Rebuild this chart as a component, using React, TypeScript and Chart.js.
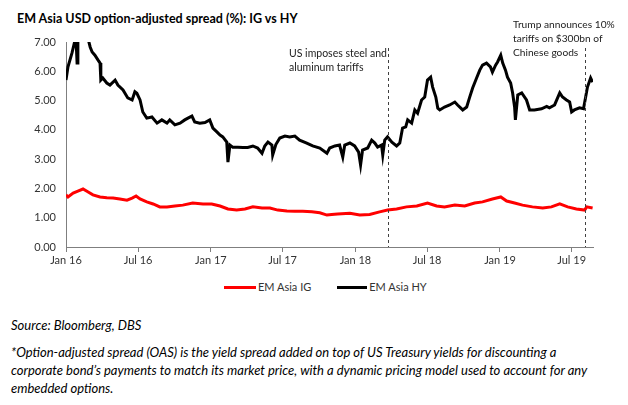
import React, { useEffect, useRef } from "react";
import { Chart, registerables } from "chart.js";

Chart.register(...registerables);

const title = "EM Asia USD option-adjusted  spread (%): IG vs HY";
const seriesNames = ["EM Asia IG", "EM Asia HY"];

const hyDates = [
  "2016-01-01", "2016-01-06", "2016-01-16", "2016-01-21", "2016-01-26", "2016-01-29", "2016-01-31",
  "2016-02-05", "2016-02-15", "2016-02-26", "2016-03-02", "2016-03-07", "2016-03-14", "2016-03-22",
  "2016-03-27", "2016-03-29", "2016-04-03", "2016-04-13", "2016-04-21", "2016-05-04", "2016-05-11",
  "2016-05-24", "2016-06-05", "2016-06-16", "2016-06-23", "2016-06-28", "2016-07-06", "2016-07-13",
  "2016-07-23", "2016-08-05", "2016-08-18", "2016-08-30", "2016-09-12", "2016-09-19", "2016-10-02",
  "2016-10-15", "2016-10-27", "2016-11-04", "2016-11-14", "2016-11-21", "2016-12-04", "2016-12-17",
  "2016-12-29", "2017-01-06", "2017-01-16", "2017-01-24", "2017-01-31", "2017-02-10", "2017-02-13",
  "2017-02-18", "2017-02-25", "2017-03-10", "2017-03-23", "2017-04-04", "2017-04-17", "2017-04-29",
  "2017-05-10", "2017-05-17", "2017-05-25", "2017-06-04", "2017-06-06", "2017-06-14", "2017-06-24",
  "2017-07-07", "2017-07-19", "2017-08-01", "2017-08-13", "2017-08-31", "2017-09-15", "2017-10-03",
  "2017-10-21", "2017-10-28", "2017-11-10", "2017-11-22", "2017-11-30", "2017-12-05", "2017-12-18",
  "2017-12-30", "2018-01-09", "2018-01-14", "2018-01-19", "2018-02-01", "2018-02-11", "2018-02-19",
  "2018-02-26", "2018-03-08", "2018-03-11", "2018-03-16", "2018-03-23", "2018-04-03", "2018-04-15",
  "2018-04-23", "2018-04-30", "2018-05-08", "2018-05-13", "2018-05-23", "2018-05-31", "2018-06-07",
  "2018-06-17", "2018-06-25", "2018-07-02", "2018-07-10", "2018-07-15", "2018-07-23", "2018-07-28",
  "2018-08-02", "2018-08-14", "2018-08-27", "2018-09-09", "2018-09-16", "2018-09-29", "2018-10-09",
  "2018-10-16", "2018-10-24", "2018-11-03", "2018-11-11", "2018-11-18", "2018-11-28", "2018-12-08",
  "2018-12-13", "2018-12-21", "2018-12-26", "2019-01-03", "2019-01-08", "2019-01-15", "2019-01-20",
  "2019-01-28", "2019-02-02", "2019-02-07", "2019-02-09", "2019-02-15", "2019-02-25", "2019-03-09",
  "2019-03-17", "2019-03-29", "2019-04-16", "2019-04-29", "2019-05-06", "2019-05-19", "2019-06-01",
  "2019-06-08", "2019-06-18", "2019-06-26", "2019-07-01", "2019-07-08", "2019-07-21", "2019-07-31",
  "2019-08-05", "2019-08-10", "2019-08-18", "2019-08-23",
];
const hyValues = [
  5.7, 6.15, 6.62, 6.9, 7.2, 6.28, 7.1,
  7.3, 7.2, 7.1, 6.83, 6.66, 6.55, 6.38,
  6.28, 5.7, 5.77, 5.6, 5.53, 5.7, 5.53,
  5.36, 5.09, 5.02, 5.3, 5.25, 5.02, 4.61,
  4.4, 4.44, 4.23, 4.34, 4.23, 4.34, 4.17,
  4.23, 4.34, 4.4, 4.47, 4.27, 4.23, 4.25,
  4.34, 4.06, 3.93, 3.82, 3.76, 3.58, 2.9,
  3.48, 3.41, 3.41, 3.4, 3.4, 3.45, 3.38,
  3.2, 3.45, 3.58, 3.48, 3.14, 3.5, 3.72,
  3.79, 3.76, 3.79, 3.65, 3.55, 3.45, 3.38,
  3.2, 3.38, 3.45, 3.48, 3.07, 3.48, 3.55,
  3.45, 3.24, 2.8, 3.31, 3.38, 3.65, 3.55,
  3.41, 3.48, 3.14, 3.65, 3.76, 3.58, 3.45,
  3.55, 4.06, 4.1, 4.34, 4.23, 4.68, 4.57,
  5.02, 5.12, 5.7, 5.8, 5.46, 5.12, 4.74,
  4.68, 4.78, 4.85, 4.95, 4.85, 4.68, 4.78,
  5.09, 5.43, 5.77, 6.04, 6.21, 6.28, 6.15,
  5.97, 6.21, 6.32, 6.55, 6.28, 6.04, 5.8,
  5.6, 5.26, 4.78, 4.34, 5.19, 5.26, 5.02,
  4.68, 4.68, 4.72, 4.8, 4.75, 4.85, 5.26,
  5.12, 5.02, 4.95, 4.61, 4.68, 4.75, 4.72,
  5.09, 5.46, 5.77, 5.63,
];

const igDates = [
  "2016-01-01", "2016-01-06", "2016-01-19", "2016-01-31", "2016-02-13", "2016-02-26", "2016-03-09",
  "2016-03-27", "2016-04-13", "2016-04-29", "2016-05-16", "2016-06-03", "2016-06-16", "2016-06-26",
  "2016-07-06", "2016-07-23", "2016-08-08", "2016-08-25", "2016-09-12", "2016-10-02", "2016-10-22",
  "2016-11-16", "2016-12-12", "2017-01-03", "2017-01-24", "2017-02-13", "2017-03-07", "2017-03-28",
  "2017-04-17", "2017-05-10", "2017-05-30", "2017-06-19", "2017-07-12", "2017-08-01", "2017-08-21",
  "2017-09-13", "2017-10-03", "2017-10-21", "2017-11-02", "2017-11-17", "2017-12-18", "2018-01-12",
  "2018-02-06", "2018-03-03", "2018-03-23", "2018-04-15", "2018-05-10", "2018-06-05", "2018-07-02",
  "2018-07-25", "2018-08-14", "2018-09-09", "2018-10-04", "2018-10-29", "2018-11-18", "2018-12-13",
  "2019-01-03", "2019-01-18", "2019-02-07", "2019-02-27", "2019-03-24", "2019-04-19", "2019-05-11",
  "2019-06-01", "2019-06-21", "2019-07-13", "2019-08-03", "2019-08-08", "2019-08-23",
];
const igValues = [
  1.78, 1.71, 1.84, 1.91, 1.98, 1.88, 1.78,
  1.71, 1.68, 1.67, 1.64, 1.6, 1.67, 1.74,
  1.64, 1.54, 1.47, 1.37, 1.37, 1.4, 1.43,
  1.5, 1.47, 1.47, 1.4, 1.3, 1.26, 1.3,
  1.37, 1.33, 1.33, 1.26, 1.23, 1.22, 1.22,
  1.2, 1.17, 1.09, 1.11, 1.13, 1.15, 1.09,
  1.11, 1.2, 1.26, 1.3, 1.37, 1.4, 1.5,
  1.4, 1.37, 1.43, 1.4, 1.5, 1.54, 1.64,
  1.71, 1.57, 1.5, 1.43, 1.37, 1.33, 1.37,
  1.47, 1.37, 1.3, 1.26, 1.37, 1.33,
];

const tickLabels = ["Jan 16", "Jul 16", "Jan 17", "Jul 17", "Jan 18", "Jul 18", "Jan 19", "Jul 19"];
const tickDates = [
  "2016-01-01", "2016-07-01", "2017-01-01", "2017-07-01",
  "2018-01-01", "2018-07-01", "2019-01-01", "2019-07-01",
];
const axisStart = "2016-01-01";
const axisEnd = "2019-08-24";
const yMin = 0;
const yMax = 7;
const yStep = 1;

const eventDates = ["2018-03-23", "2019-08-03"];
const eventLabels = [
  ["US imposes steel and", "aluminum tariffs"],
  ["Trump announces 10%", "tariffs on $300bn of", "Chinese goods"],
];

const sourceText = "Source: Bloomberg, DBS";
const noteLines = [
  "*Option-adjusted spread (OAS) is the yield spread added on top of US Treasury yields for discounting a",
  "corporate bond\u2019s payments to match its market price, with a dynamic pricing model used to account for any",
  "embedded options.",
];

const DAY = 86400000;
const dayOf = (s: string) => (Date.parse(s) - Date.parse(axisStart)) / DAY;

const FONT = "Lato, 'DejaVu Sans', sans-serif";
const CANVAS_W = 628;
const CANVAS_H = 275;

export default function App() {
  const ref = useRef<HTMLCanvasElement | null>(null);

  useEffect(() => {
    if (!ref.current) return;
    const eventPlugin = {
      id: "events",
      afterDatasetsDraw(chart: any) {
        const { ctx, chartArea } = chart;
        const xs = chart.scales.x;
        ctx.save();
        ctx.strokeStyle = "#404040";
        ctx.lineWidth = 1;
        ctx.setLineDash([3, 3]);
        eventDates.forEach((d) => {
          const x = Math.round(xs.getPixelForValue(dayOf(d))) + 0.5;
          ctx.beginPath();
          ctx.moveTo(x, 48);
          ctx.lineTo(x, chartArea.bottom);
          ctx.stroke();
        });
        ctx.restore();
      },
    };

    const chart = new Chart(ref.current, {
      type: "line",
      data: {
        datasets: [
          {
            label: seriesNames[0],
            data: igDates.map((d, i) => ({ x: dayOf(d), y: igValues[i] })),
            borderColor: "#ff0000",
            backgroundColor: "#ff0000",
            borderWidth: 3,
            pointRadius: 0,
            tension: 0,
          },
          {
            label: seriesNames[1],
            data: hyDates.map((d, i) => ({ x: dayOf(d), y: hyValues[i] })),
            borderColor: "#000000",
            backgroundColor: "#000000",
            borderWidth: 3,
            pointRadius: 0,
            tension: 0,
          },
        ],
      },
      options: {
        animation: false,
        responsive: false,
        devicePixelRatio: 1,
        layout: { padding: { top: 42, right: 35, left: 0, bottom: 0 } },
        plugins: { legend: { display: false }, tooltip: { enabled: false }, title: { display: false } },
        scales: {
          x: {
            type: "linear",
            min: 0,
            max: dayOf(axisEnd),
            afterBuildTicks: (s: any) => {
              s.ticks = tickDates.map((d) => ({ value: dayOf(d) }));
            },
            afterFit: (s: any) => {
              s.height = 28;
            },
            ticks: {
              autoSkip: false,
              maxRotation: 0,
              padding: 2,
              color: "#333333",
              font: { family: FONT, size: 11 },
              callback: (_v: any, i: number) => tickLabels[i],
            },
            grid: { drawOnChartArea: false, drawTicks: true, tickLength: 5, color: "#7f7f7f" },
            border: { color: "#7f7f7f", width: 1 },
          },
          y: {
            min: yMin,
            max: yMax,
            afterFit: (s: any) => {
              s.width = 66;
            },
            ticks: {
              stepSize: yStep,
              padding: 10,
              color: "#333333",
              font: { family: FONT, size: 11 },
              callback: (v: any) => Number(v).toFixed(2),
            },
            grid: { drawOnChartArea: false, drawTicks: false, color: "#7f7f7f" },
            border: { color: "#7f7f7f", width: 1 },
          },
        },
      },
      plugins: [eventPlugin],
    } as any);
    return () => chart.destroy();
  }, []);

  const txt: React.CSSProperties = { position: "absolute", fontFamily: FONT, color: "#000", whiteSpace: "nowrap" };

  return (
    <div style={{ position: "absolute", left: 0, top: 0, width: 628, height: 405, background: "#fff", overflow: "hidden" }}>
      <div style={{ ...txt, left: 17, top: 11, fontSize: 12.5, fontWeight: 700, lineHeight: "16px" }}>{title}</div>
      <canvas ref={ref} width={CANVAS_W} height={CANVAS_H} style={{ position: "absolute", left: 0, top: 0, width: CANVAS_W, height: CANVAS_H }} />
      <div style={{ ...txt, left: 289, top: 46, fontSize: 10.5, lineHeight: "14px", color: "#222" }}>
        {eventLabels[0].map((l, i) => (<div key={i}>{l}</div>))}
      </div>
      <div style={{ ...txt, left: 513, top: 17, fontSize: 10.2, lineHeight: "14px", color: "#222" }}>
        {eventLabels[1].map((l, i) => (<div key={i}>{l}</div>))}
      </div>
      <div style={{ ...txt, left: 224, top: 280, fontSize: 11, lineHeight: "14px", color: "#333", display: "flex", alignItems: "center" }}>
        <span style={{ display: "inline-block", width: 32, height: 3, background: "#ff0000", marginRight: 2 }} />
        <span>{seriesNames[0]}</span>
        <span style={{ display: "inline-block", width: 30, height: 3, background: "#000", marginLeft: 26, marginRight: 2 }} />
        <span>{seriesNames[1]}</span>
      </div>
      <div style={{ ...txt, left: 11, top: 316, fontSize: 13, fontStyle: "italic", lineHeight: "18px" }}>{sourceText}</div>
      <div style={{ ...txt, left: 11, top: 343, fontSize: 13, fontStyle: "italic", lineHeight: "18px" }}>
        {noteLines.map((l, i) => (<div key={i}>{l}</div>))}
      </div>
    </div>
  );
}
